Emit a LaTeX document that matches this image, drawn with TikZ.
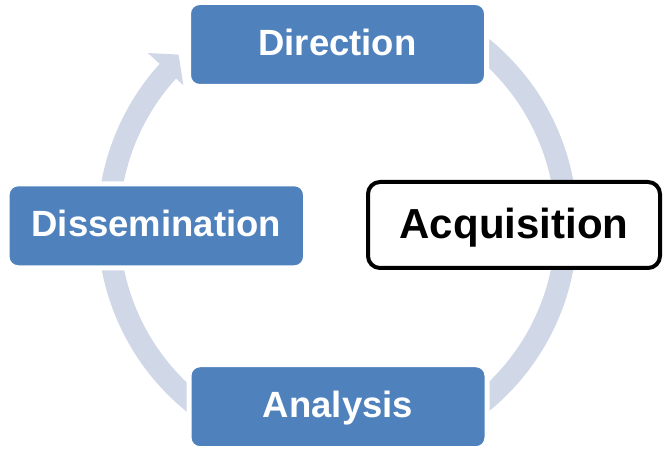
\documentclass[tikz,border=0pt]{standalone}
\usepackage{fontspec}
\setmainfont{Liberation Sans}
\usetikzlibrary{calc}
\definecolor{boxblue}{HTML}{4F81BD}
\definecolor{ringgrey}{HTML}{D0D8E8}
\begin{document}
\begin{tikzpicture}[x=1pt,y=1pt,
  bluebox/.style={rectangle, rounded corners=11pt, fill=boxblue, draw=white, line width=5pt,
    minimum width=298pt, minimum height=84pt, inner sep=0pt, text=white,
    font=\fontsize{36.5}{40}\selectfont\bfseries, text height=26pt, text depth=4.5pt},
  whitebox/.style={rectangle, rounded corners=12pt, fill=white, draw=black, line width=4pt,
    minimum width=292pt, minimum height=86pt, inner sep=0pt, text=black,
    font=\fontsize{42}{46}\selectfont\bfseries, text height=30pt, text depth=3.4pt},
  ring/.style={fill=ringgrey}]
\useasboundingbox (0,0) rectangle (665,448);
\coordinate (C) at (337.5,223);
% cycle arrow
\fill[ring] ($(C)+(55:240)$) arc[start angle=55, end angle=-222.2, radius=240]
  -- ($(C)+(137.8:256)$) -- ($(C)+(133:233)$) -- ($(C)+(137.8:208)$)
  -- ($(C)+(137.8:218)$) arc[start angle=-222.2, end angle=55, radius=218] -- cycle;
% boxes
\node[bluebox] (dir) at (337.5,403.5) {Direction};
\node[bluebox, minimum width=298.5pt] (dis) at (156.3,222.2) {Dissemination};
\node[bluebox] (ana) at (338,41.3) {Analysis};
\node[whitebox] (acq) at (514,223) {Acquisition};
\end{tikzpicture}
\end{document}
